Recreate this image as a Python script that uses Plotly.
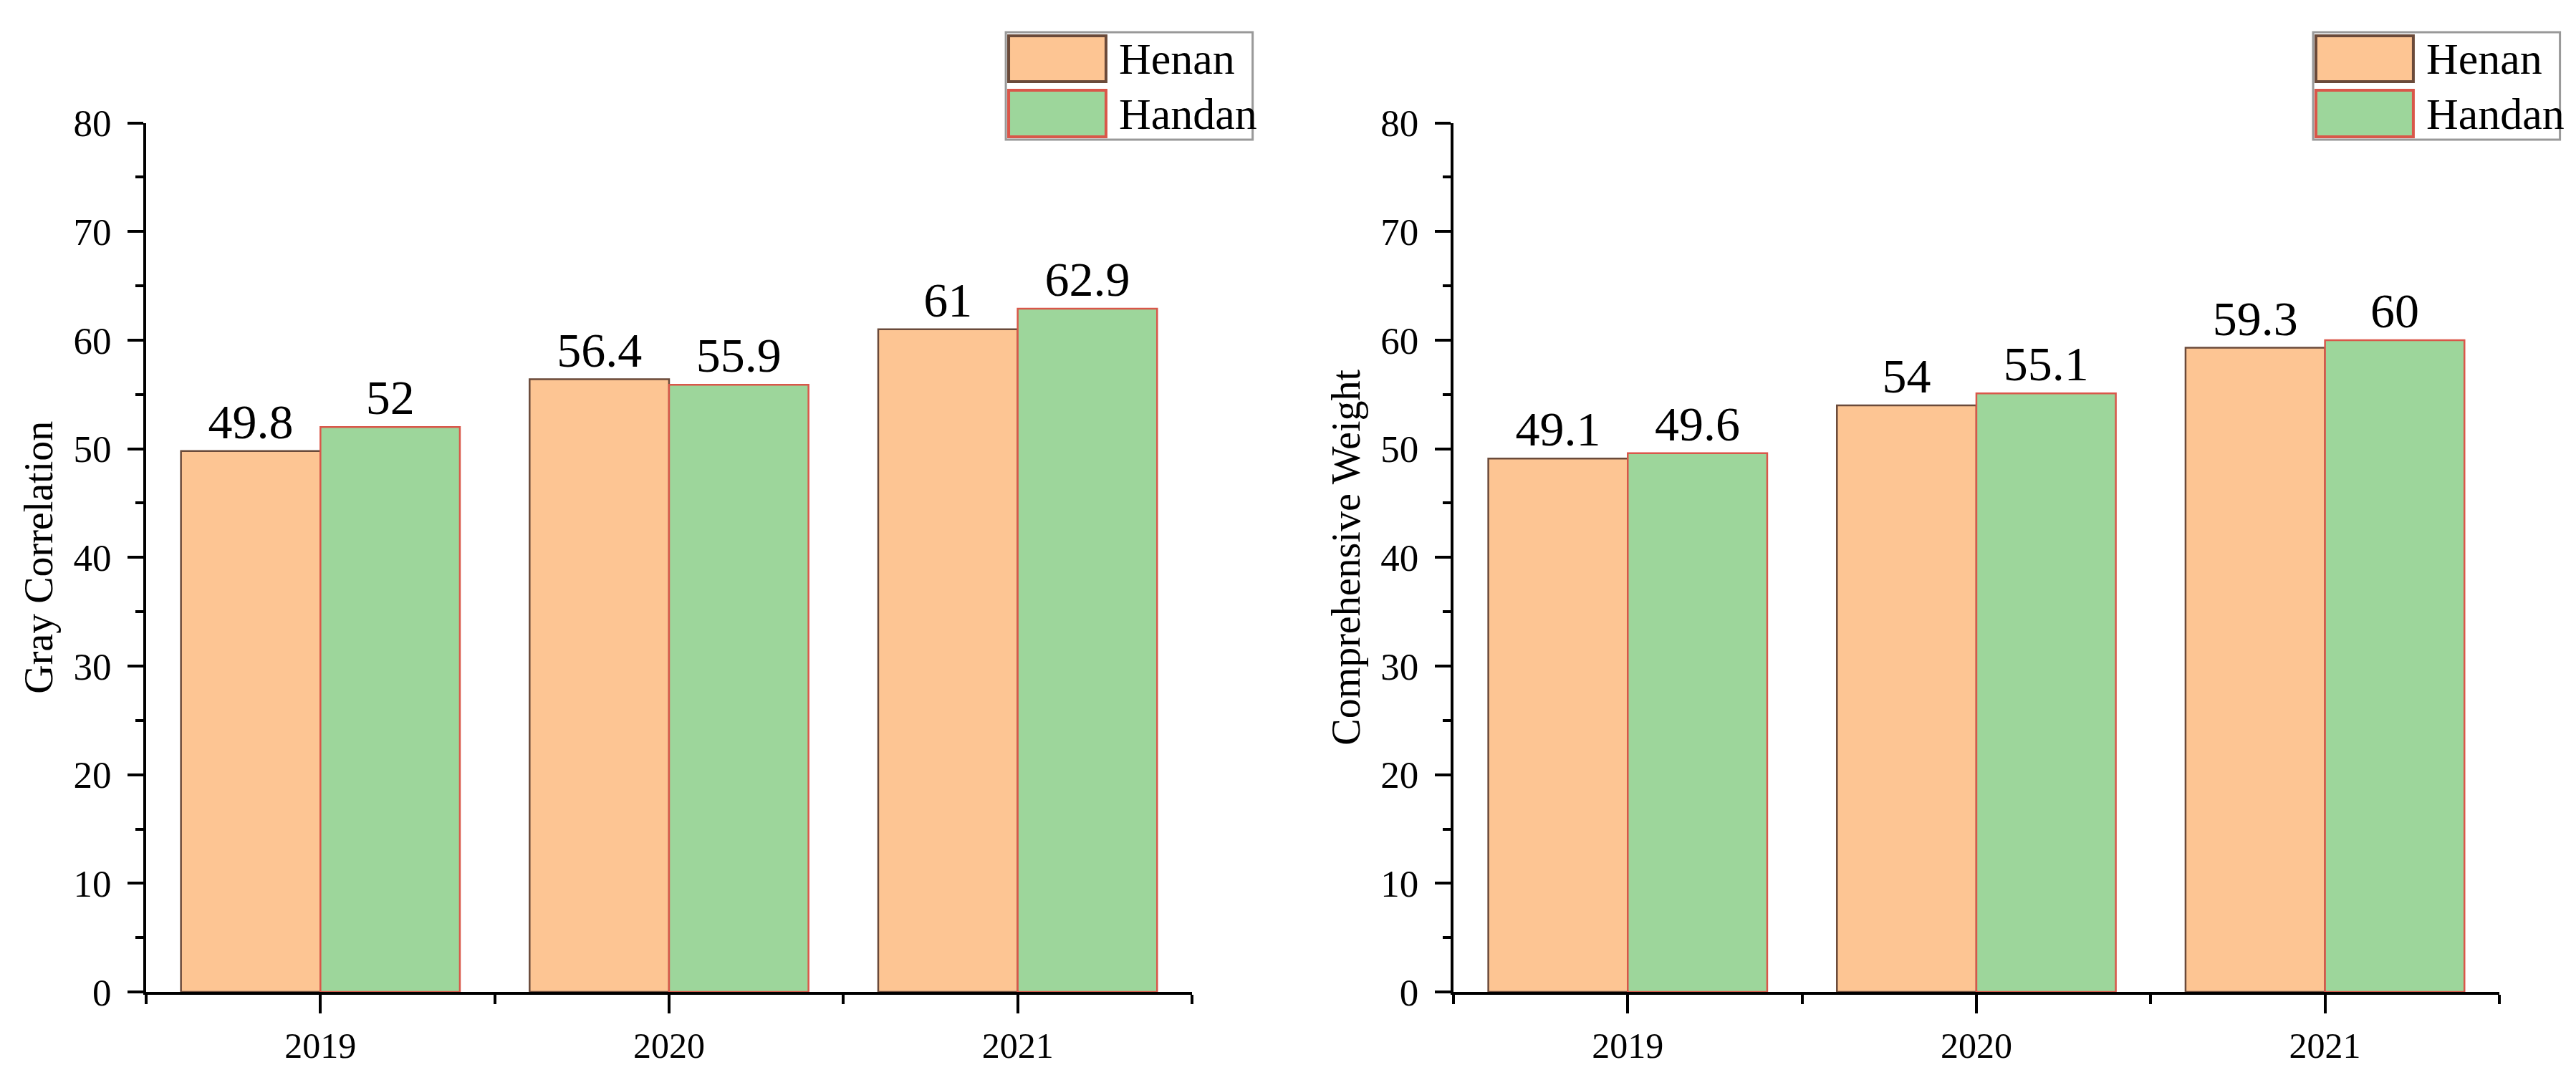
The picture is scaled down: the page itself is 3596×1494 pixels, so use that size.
import plotly.graph_objects as go

# ---------------- data ----------------
years = ["2019", "2020", "2021"]
series_names = ["Henan", "Handan"]
gray_henan = [49.8, 56.4, 61]
gray_handan = [52, 55.9, 62.9]
weight_henan = [49.1, 54, 59.3]
weight_handan = [49.6, 55.1, 60]
y_ticks = [0, 10, 20, 30, 40, 50, 60, 70, 80]
panel_titles = ["Gray Correlation", "Comprehensive Weight"]

# ---------------- style ----------------
FONT = "Liberation Serif"
FILL = {"Henan": "#FDC593", "Handan": "#9DD69B"}
EDGE = {"Henan": "#6A4A3A", "Handan": "#D9574A"}
W, H = 3596, 1494
x_domains = [[0.0545, 0.4605], [0.5620, 0.9680]]
y_domain = [0.0783, 0.8905]

x_pos = list(range(len(years)))
minor_x = [p - 0.5 for p in x_pos] + [x_pos[-1] + 0.5]

panels = [(gray_henan, gray_handan), (weight_henan, weight_handan)]

fig = go.Figure()
for i, (a, b) in enumerate(panels):
    xa = "x" if i == 0 else f"x{i+1}"
    ya = "y" if i == 0 else f"y{i+1}"
    for name, vals in zip(series_names, (a, b)):
        fig.add_trace(go.Bar(
            x=x_pos, y=vals, name=name, xaxis=xa, yaxis=ya,
            marker=dict(color=FILL[name], line=dict(color=EDGE[name], width=2.5)),
            texttemplate="%{y}", textposition="outside",
            textfont=dict(family=FONT, size=68, color="black"),
            cliponaxis=False, showlegend=False,
        ))

layout = dict(
    width=W, height=H,
    margin=dict(l=0, r=0, t=0, b=0),
    paper_bgcolor="white", plot_bgcolor="white",
    barmode="group", bargap=0.2, bargroupgap=0,
    font=dict(family=FONT, color="black"),
)

shapes = []
annotations = []
for i in range(len(panels)):
    sfx = "" if i == 0 else str(i + 1)
    layout["xaxis" + sfx] = dict(
        domain=x_domains[i], anchor="y" + sfx, range=[-0.5, len(years) - 0.5],
        tickmode="array", tickvals=x_pos, ticktext=years,
        ticks="outside", ticklen=26, tickwidth=4, tickcolor="black",
        showline=True, linewidth=4, linecolor="black",
        showgrid=False, zeroline=False, automargin=False,
        tickfont=dict(family=FONT, size=50, color="black"),
        ticklabelstandoff=2,
        minor=dict(tickmode="array", tickvals=minor_x, ticks="outside",
                   ticklen=13, tickwidth=4, tickcolor="black", showgrid=False),
    )
    layout["yaxis" + sfx] = dict(
        domain=y_domain, anchor="x" + sfx, range=[0, 80],
        tickmode="array", tickvals=y_ticks,
        ticks="outside", ticklen=22, tickwidth=4, tickcolor="black",
        showline=True, linewidth=4, linecolor="black",
        showgrid=False, zeroline=False, automargin=False,
        tickfont=dict(family=FONT, size=53, color="black"),
        ticklabelstandoff=12,
        minor=dict(dtick=5, tick0=0, ticks="outside", ticklen=11,
                   tickwidth=4, tickcolor="black", showgrid=False),
        title=dict(text=panel_titles[i], font=dict(family=FONT, size=56, color="black"),
                   standoff=12),
    )
    xref = "x" + sfx + " domain"
    # legend box
    shapes.append(dict(type="rect", xref=xref, yref="paper",
                       x0=0.822, x1=1.058, y0=1 - 187 / H, y1=1 - 37 / H,
                       line=dict(color="#999999", width=3), fillcolor="white", layer="above"))
    sw_rows = [(42, 106), (118, 183)]
    for name, (t, bt) in zip(series_names, sw_rows):
        shapes.append(dict(type="rect", xref=xref, yref="paper",
                           x0=0.8247, x1=0.9178, y0=1 - bt / H, y1=1 - t / H,
                           line=dict(color=EDGE[name], width=4), fillcolor=FILL[name], layer="above"))
        annotations.append(dict(xref=xref, yref="paper", x=0.9285, y=1 - (t + bt) / 2 / H,
                                text=name, showarrow=False, xanchor="left", yanchor="middle",
                                font=dict(family=FONT, size=62, color="black")))

layout["shapes"] = shapes
layout["annotations"] = annotations
fig.update_layout(**layout)

fig.write_html("out.html")
